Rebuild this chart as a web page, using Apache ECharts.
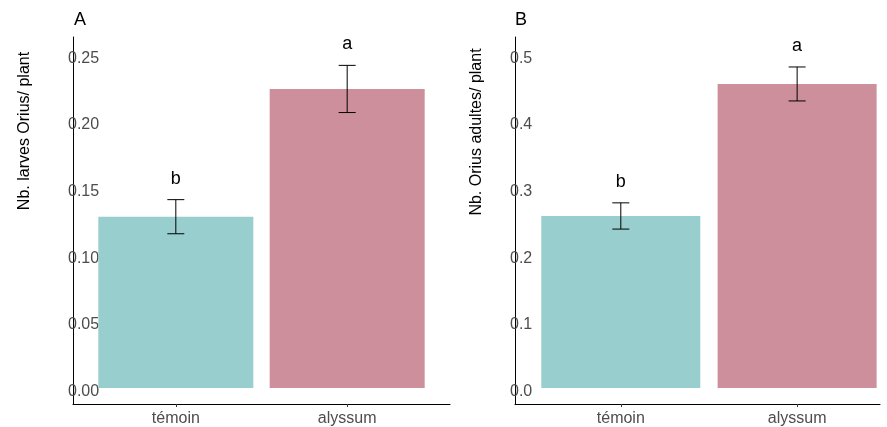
<!DOCTYPE html>
<html>
<head>
<meta charset="utf-8">
<script src="https://cdn.jsdelivr.net/npm/echarts@6/dist/echarts.min.js"></script>
<style>html,body{margin:0;padding:0;background:#fff;}#c{width:887px;height:427px;}</style>
</head>
<body>
<div id="c"></div>
<script>
const categories = ['témoin', 'alyssum'];
const categoryPos = [1, 2];
const larvesMean = [0.1286, 0.2245];
const larvesSE = [0.0128, 0.0177];
const adultesMean = [0.2583, 0.4565];
const adultesSE = [0.0197, 0.0255];
const letters = ['b', 'a'];
const yTicksA = [0, 0.05, 0.10, 0.15, 0.20, 0.25];
const yTicksB = [0, 0.1, 0.2, 0.3, 0.4, 0.5];

const FONT = 'Liberation Sans, Arial, Helvetica, sans-serif';
const barColors = ['#99CECE', '#CC8F9B'];

function barData(means) {
  return categoryPos.map((x, i) => ({ value: [x, means[i]], itemStyle: { color: barColors[i] } }));
}
function errData(means, ses) {
  return categoryPos.map((x, i) => [x, means[i], ses[i]]);
}
function errRender(params, api) {
  const x = api.value(0), m = api.value(1), se = api.value(2);
  const top = api.coord([x, m + se]);
  const bot = api.coord([x, m - se]);
  const half = 8.5;
  const ls = { stroke: '#000', lineWidth: 1 };
  return {
    type: 'group',
    children: [
      { type: 'line', shape: { x1: top[0], y1: top[1], x2: bot[0], y2: bot[1] }, style: ls },
      { type: 'line', shape: { x1: top[0] - half, y1: top[1], x2: top[0] + half, y2: top[1] }, style: ls },
      { type: 'line', shape: { x1: bot[0] - half, y1: bot[1], x2: bot[0] + half, y2: bot[1] }, style: ls },
      { type: 'text', x: top[0], y: top[1] - 21,
        style: { text: letters[params.dataIndex], fontSize: 18, fontFamily: FONT, fill: '#000',
                 align: 'center', verticalAlign: 'middle' } }
    ]
  };
}
function xAxisCfg(gridIndex, max) {
  return {
    type: 'value', gridIndex, min: 0.4, max,
    axisLine: { show: true, onZero: false, lineStyle: { color: '#000', width: 1 } },
    axisTick: { show: true, customValues: categoryPos, length: 3, lineStyle: { color: '#333' } },
    axisLabel: { show: true, customValues: categoryPos, margin: 7, fontSize: 16, fontFamily: FONT, color: '#4D4D4D',
                 formatter: v => categories[Math.round(v) - 1] },
    splitLine: { show: false }
  };
}
function yAxisCfg(gridIndex, min, max, ticks, digits) {
  return {
    type: 'value', gridIndex, min, max,
    axisLine: { show: true, onZero: false, lineStyle: { color: '#000', width: 1 } },
    axisTick: { show: false, customValues: ticks },
    axisLabel: { show: true, customValues: ticks, margin: 5, align: 'left', fontSize: 16, fontFamily: FONT,
                 color: '#4D4D4D', formatter: v => '{t|' + Number(v).toFixed(digits) + '}',
                 rich: { t: { fontSize: 16, fontFamily: FONT, color: '#4D4D4D', padding: [7, 0, 0, 0] } } },
    splitLine: { show: false }
  };
}

const chart = echarts.init(document.getElementById('c'), null, { renderer: 'canvas' });
chart.setOption({
  animation: false,
  backgroundColor: '#fff',
  grid: [
    { left: 73, right: 437, top: 37, bottom: 23, outerBoundsMode: 'none', containLabel: false },
    { left: 515, right: 7, top: 37, bottom: 23, outerBoundsMode: 'none', containLabel: false }
  ],
  xAxis: [xAxisCfg(0, 2.6), xAxisCfg(1, 2.47)],
  yAxis: [yAxisCfg(0, -0.012, 0.2635, yTicksA, 2), yAxisCfg(1, -0.024, 0.527, yTicksB, 1)],
  series: [
    { type: 'bar', xAxisIndex: 0, yAxisIndex: 0, barWidth: 155, data: barData(larvesMean), z: 1 },
    { type: 'custom', xAxisIndex: 0, yAxisIndex: 0, renderItem: errRender, data: errData(larvesMean, larvesSE), clip: false, z: 3 },
    { type: 'bar', xAxisIndex: 1, yAxisIndex: 1, barWidth: 159, data: barData(adultesMean), z: 1 },
    { type: 'custom', xAxisIndex: 1, yAxisIndex: 1, renderItem: errRender, data: errData(adultesMean, adultesSE), clip: false, z: 3 }
  ],
  graphic: [
    { type: 'text', x: 80, y: 20, style: { text: 'A', fontSize: 18, fontFamily: FONT, fill: '#000', align: 'center', verticalAlign: 'middle' } },
    { type: 'text', x: 521, y: 20, style: { text: 'B', fontSize: 18, fontFamily: FONT, fill: '#000', align: 'center', verticalAlign: 'middle' } },
    { type: 'text', x: 25, y: 131, rotation: Math.PI / 2, style: { text: 'Nb. larves Orius/ plant', fontSize: 16, fontFamily: FONT, fill: '#000', align: 'center', verticalAlign: 'middle' } },
    { type: 'text', x: 477, y: 132, rotation: Math.PI / 2, style: { text: 'Nb. Orius adultes/ plant', fontSize: 16, fontFamily: FONT, fill: '#000', align: 'center', verticalAlign: 'middle' } }
  ]
});
</script>
</body>
</html>
